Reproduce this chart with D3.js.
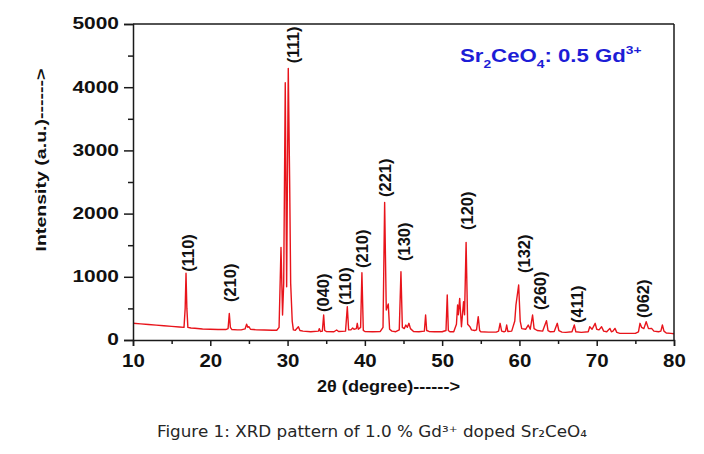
<!DOCTYPE html>
<html>
<head>
<meta charset="utf-8">
<script src="https://cdn.jsdelivr.net/npm/d3@7"></script>
<style>
  html, body { margin: 0; padding: 0; background: #fff; }
  svg { display: block; }
</style>
</head>
<body>
<svg id="chart" width="704" height="454"></svg>
<script>
// ---- data ----
const twoTheta = [
  10.0, 11.0, 12.0, 13.0, 14.0, 15.0, 16.0, 16.6, 16.75, 16.86, 16.97, 17.1, 17.5, 18.0, 19.0, 20.0,
  21.0, 22.0, 22.3, 22.46, 22.6, 22.8, 23.5, 24.0, 24.5, 24.7, 24.85, 25.0, 25.2, 26.0, 27.0, 28.0,
  28.6, 28.9, 29.15, 29.35, 29.5, 29.7, 29.88, 30.09, 30.27, 30.4, 30.6, 30.75, 31.0, 31.4, 31.6, 32.0,
  33.0, 34.0, 34.1, 34.25, 34.5, 34.67, 34.8, 35.0, 36.0, 36.35, 36.6, 37.5, 37.73, 37.9, 38.2, 38.42,
  38.6, 38.9, 39.02, 39.15, 39.45, 39.62, 39.8, 40.0, 41.0, 42.0, 42.35, 42.56, 42.77, 43.03, 43.2, 43.5,
  44.0, 44.45, 44.67, 44.85, 45.1, 45.3, 45.5, 45.7, 45.9, 46.3, 47.0, 47.7, 47.86, 48.0, 48.3, 49.0,
  50.0, 50.5, 50.66, 50.8, 51.0, 51.5, 51.85, 52.0, 52.1, 52.27, 52.5, 52.77, 52.9, 53.1, 53.3, 53.6,
  53.8, 54.2, 54.45, 54.67, 54.85, 55.0, 56.0, 57.0, 57.3, 57.5, 57.7, 58.0, 58.2, 58.35, 58.5, 59.0,
  59.4, 59.55, 59.9, 60.1, 60.3, 60.8, 61.14, 61.4, 61.7, 61.9, 62.3, 63.0, 63.5, 63.7, 64.0, 64.5,
  64.9, 65.1, 65.5, 66.0, 66.8, 67.1, 67.3, 68.0, 68.9, 69.1, 69.4, 69.8, 70.0, 70.3, 70.63, 70.9,
  71.3, 71.7, 71.9, 72.1, 72.36, 72.6, 73.0, 74.0, 75.0, 75.4, 75.6, 75.8, 76.1, 76.4, 76.7, 77.1,
  77.4, 78.0, 78.3, 78.5, 78.7, 79.0, 79.6, 80.0
];
const intensity = [
  265, 255, 245, 235, 225, 215, 205, 200, 500, 1055, 500, 200, 190, 185, 175, 170,
  165, 165, 180, 420, 200, 165, 160, 160, 175, 250, 200, 210, 170, 160, 158, 155,
  155, 200, 1466, 395, 900, 4070, 843, 4298, 2505, 900, 300, 160, 155, 210, 150, 140,
  131, 140, 180, 135, 140, 395, 150, 135, 131, 158, 135, 140, 527, 160, 160, 190,
  170, 180, 264, 170, 200, 1065, 150, 135, 131, 135, 200, 2178, 475, 570, 170, 140,
  131, 160, 1080, 200, 180, 237, 200, 264, 180, 135, 131, 140, 395, 150, 135, 130,
  130, 150, 712, 150, 130, 130, 250, 554, 400, 659, 210, 606, 400, 1545, 250, 210,
  160, 150, 160, 369, 150, 130, 125, 125, 140, 264, 140, 130, 140, 237, 135, 140,
  300, 554, 870, 300, 180, 170, 237, 170, 395, 180, 150, 140, 306, 150, 130, 135,
  264, 150, 125, 120, 130, 237, 130, 120, 130, 210, 170, 264, 170, 160, 210, 140,
  130, 184, 130, 140, 184, 120, 105, 105, 105, 130, 264, 200, 180, 290, 180, 184,
  140, 130, 140, 237, 140, 110, 105, 100
];
// peak (hkl) labels: text, label 2θ position, intensity level of the label's lower end
const peakLabels = ["(110)", "(210)", "(111)", "(040)", "(110)", "(210)", "(221)", "(130)", "(120)", "(132)", "(260)", "(411)", "(062)"];
const peakLabelX = [17.15, 22.55, 30.74, 34.62, 37.43, 39.59, 42.6, 45.06, 53.17, 60.62, 62.65, 67.4, 76.0];
const peakLabelY = [1080, 600, 4380, 443, 554, 1139, 2262, 1250, 1740, 1060, 475, 269, 348];

const xTicks = [10, 20, 30, 40, 50, 60, 70, 80];
const xMinorTicks = [15, 25, 35, 45, 55, 65, 75];
const yTicks = [0, 1000, 2000, 3000, 4000, 5000];
const yMinorTicks = [500, 1500, 2500, 3500, 4500];

const xTitle = "2θ (degree)------>";
const yTitle = "Intensity (a.u.)------>";
const caption = "Figure 1: XRD pattern of 1.0 % Gd³⁺ doped Sr₂CeO₄";

// ---- drawing ----
const svg = d3.select("#chart");
const FONT = "'Liberation Sans', Arial, Helvetica, sans-serif";
const AX = "#1a1a1a";

const x = d3.scaleLinear().domain([10, 80]).range([133, 674]);
const y = d3.scaleLinear().domain([0, 5000]).range([340, 24]);

// pattern line
const pts = twoTheta.map((t, i) => [t, intensity[i]]);
svg.append("path")
  .datum(pts)
  .attr("fill", "none")
  .attr("stroke", "#e8141b")
  .attr("stroke-width", 1.4)
  .attr("stroke-linejoin", "round")
  .attr("d", d3.line().x(d => x(d[0])).y(d => y(d[1])));

// frame (top & right)
svg.append("line").attr("x1", 133).attr("x2", 674).attr("y1", 24).attr("y2", 24)
  .attr("stroke", AX).attr("stroke-width", 1.5);
svg.append("line").attr("x1", 674).attr("x2", 674).attr("y1", 24).attr("y2", 340)
  .attr("stroke", AX).attr("stroke-width", 1.5);

// x axis
const gx = svg.append("g").attr("transform", "translate(0,340)")
  .call(d3.axisBottom(x).tickValues(xTicks).tickSize(6).tickPadding(7.5).tickFormat(d3.format("d")));
const gxm = svg.append("g").attr("transform", "translate(0,340)")
  .call(d3.axisBottom(x).tickValues(xMinorTicks).tickSize(4).tickFormat(""));
gxm.select(".domain").remove();

// y axis
const gy = svg.append("g").attr("transform", "translate(133,0)")
  .call(d3.axisLeft(y).tickValues(yTicks).tickSize(9).tickPadding(5).tickFormat(d3.format("d")));
const gym = svg.append("g").attr("transform", "translate(133,0)")
  .call(d3.axisLeft(y).tickValues(yMinorTicks).tickSize(5).tickFormat(""));
gym.select(".domain").remove();

[gx, gxm, gy, gym].forEach(g => {
  g.selectAll(".domain").attr("stroke", AX).attr("stroke-width", 1.5);
  g.selectAll(".tick line").attr("stroke", AX).attr("stroke-width", 1.5);
});
gx.selectAll(".tick text")
  .attr("font-family", FONT).attr("font-weight", "bold").attr("font-size", 18.6)
  .attr("fill", "#111")
  .attr("transform", "scale(1.1,1)");
gy.selectAll(".tick text")
  .attr("font-family", FONT).attr("font-weight", "bold").attr("font-size", 15.6)
  .attr("fill", "#111")
  .attr("x", 0)
  .attr("transform", "translate(-14,0) scale(1.34,1)");

// axis titles
svg.append("text")
  .attr("x", 317).attr("y", 391.5)
  .attr("font-family", FONT).attr("font-weight", "bold").attr("font-size", 16.5)
  .attr("fill", "#111")
  .attr("textLength", 143).attr("lengthAdjust", "spacingAndGlyphs")
  .text(xTitle);

svg.append("text")
  .attr("transform", "translate(46,251.5) rotate(-90)")
  .attr("font-family", FONT).attr("font-weight", "bold").attr("font-size", 15.5)
  .attr("fill", "#111")
  .attr("textLength", 183).attr("lengthAdjust", "spacingAndGlyphs")
  .text(yTitle);

// peak labels
peakLabels.forEach((lab, i) => {
  svg.append("text")
    .attr("transform", `translate(${x(peakLabelX[i])},${y(peakLabelY[i])}) rotate(-90)`)
    .attr("dy", "0.36em")
    .attr("font-family", FONT).attr("font-weight", "bold").attr("font-size", 16.5)
    .attr("fill", "#111")
    .text(lab);
});

// sample legend
const leg = svg.append("text")
  .attr("transform", "translate(460,61.7) scale(1.2,1)")
  .attr("font-family", FONT).attr("font-weight", "bold").attr("font-size", 18.5)
  .attr("fill", "#1d1dd6");
leg.append("tspan").text("Sr");
leg.append("tspan").attr("font-size", 11.5).attr("dy", 6).text("2");
leg.append("tspan").attr("dy", -6).text("CeO");
leg.append("tspan").attr("font-size", 11.5).attr("dy", 6).text("4");
leg.append("tspan").attr("dy", -6).text(": 0.5 Gd");
leg.append("tspan").attr("font-size", 11.5).attr("dy", -8).text("3+");

// caption
svg.append("text")
  .attr("x", 157).attr("y", 437)
  .attr("font-family", "'DejaVu Sans', Verdana, sans-serif").attr("font-size", 15)
  .attr("fill", "#262626")
  .attr("textLength", 430).attr("lengthAdjust", "spacingAndGlyphs")
  .text(caption);
</script>
</body>
</html>
